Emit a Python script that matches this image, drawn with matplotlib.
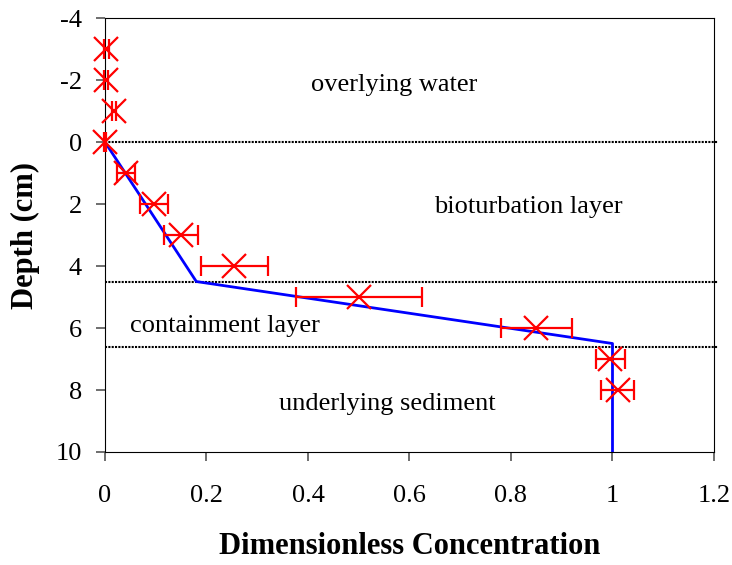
import matplotlib.pyplot as plt

# measured profile
conc = [0.003, 0.002, 0.017, 0.0, 0.041, 0.097, 0.15, 0.255, 0.5, 0.85, 0.996, 1.01]
depth = [-3, -2, -1, 0, 1, 2, 3, 4, 5, 6, 7, 8]
conc_err = [0.005, 0.003, 0.004, 0.002, 0.018, 0.027, 0.034, 0.066, 0.124, 0.07, 0.028, 0.033]

# model profile
model_conc = [0.0, 0.18, 1.0, 1.0]
model_depth = [0.0, 4.5, 6.5, 10.0]

layer_bounds = [0.0, 4.5, 6.6]
layer_names = ["overlying water", "bioturbation layer", "containment layer", "underlying sediment"]
label_x = [0.569, 0.835, 0.237, 0.557]
label_y = [-1.84, 2.1, 5.94, 8.45]

plt.rcParams['font.family'] = ['Liberation Serif', 'DejaVu Serif']
plt.rcParams['axes.unicode_minus'] = False

fig = plt.figure(figsize=(7.32, 5.65), dpi=100)
ax = fig.add_axes([0.1434, 0.2, 0.8320, 0.768])

for b in layer_bounds:
    ax.plot([0, 1.207], [b, b], color='black', ls=(0, (1, 0.6)), lw=1.5, clip_on=False, zorder=1)

ax.plot(model_conc, model_depth, color='blue', lw=2, zorder=2)
eb = ax.errorbar(conc, depth, xerr=conc_err, fmt='x', color='red', ecolor='red',
                 ms=17, mew=1.6, elinewidth=1.6, capsize=7, capthick=1.6, zorder=3)
for art in eb.get_children():
    art.set_clip_on(False)

for name, x, y in zip(layer_names, label_x, label_y):
    ax.text(x, y, name, ha='center', va='center', fontsize=19)

ax.set_xlim(0, 1.2)
ax.set_ylim(10, -4)
ax.set_xticks([0, 0.2, 0.4, 0.6, 0.8, 1, 1.2])
ax.set_xticklabels(['0', '0.2', '0.4', '0.6', '0.8', '1', '1.2'])
ax.set_yticks(range(-4, 11, 2))
ax.tick_params(labelsize=19, direction='out', length=6.5, width=1.2, color='#555555')
ax.tick_params(axis='x', pad=17)
ax.tick_params(axis='y', pad=10)
ax.set_xlabel('Dimensionless Concentration', fontsize=22, fontweight='bold', labelpad=18)
ax.set_ylabel('Depth (cm)', fontsize=22, fontweight='bold', labelpad=11)

fig.savefig('out.png', dpi=100)
